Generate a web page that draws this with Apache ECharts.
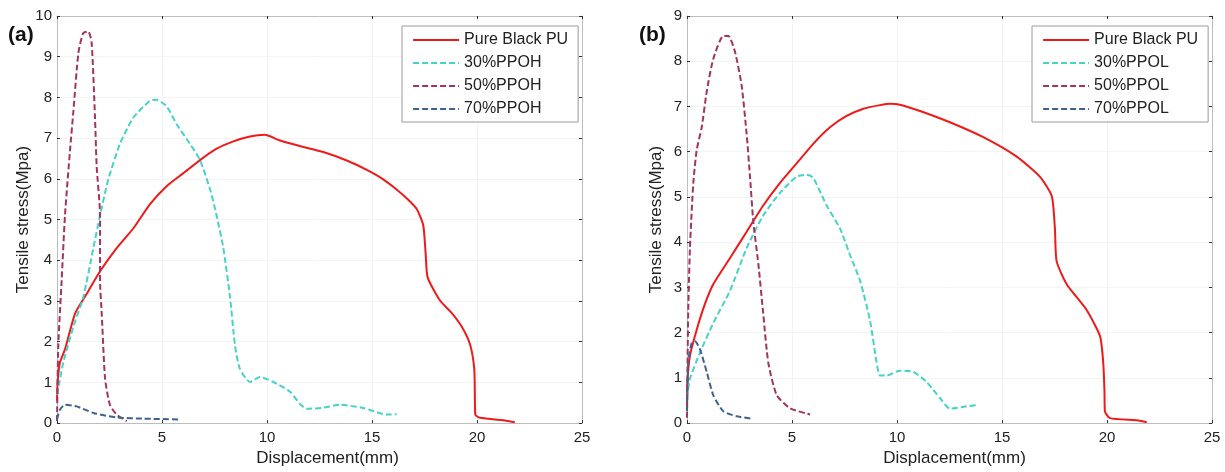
<!DOCTYPE html>
<html>
<head>
<meta charset="utf-8">
<script src="https://cdn.jsdelivr.net/npm/echarts@6/dist/echarts.min.js"></script>
<style>
html,body{margin:0;padding:0;background:#fff;}
#main{width:1225px;height:472px;}
</style>
</head>
<body>
<div id="main"></div>
<script>
// ---- Data (Displacement mm, Tensile stress MPa) ----
const xTicks = [0, 5, 10, 15, 20, 25];
const seriesNamesA = ['Pure Black PU', '30%PPOH', '50%PPOH', '70%PPOH'];
const seriesNamesB = ['Pure Black PU', '30%PPOL', '50%PPOL', '70%PPOL'];

// Panel (a)
const pureA = [[0,0.55],[0.03,1.01],[0.14,1.49],[0.38,1.81],[0.86,2.69],[1.41,3.17],[2.05,3.73],[2.84,4.3],[3.63,4.78],[4.43,5.38],[5.22,5.82],[6.02,6.14],[6.81,6.46],[7.6,6.74],[8.4,6.92],[9.19,7.04],[9.9,7.08],[10.62,6.94],[11.6,6.8],[12.68,6.66],[13.8,6.45],[14.75,6.22],[15.5,6.0],[16.17,5.74],[16.7,5.5],[17.13,5.26],[17.44,4.86],[17.55,4.2],[17.65,3.58],[18.24,3.01],[18.8,2.7],[19.27,2.37],[19.67,1.93],[19.87,1.33],[19.9,0.6],[19.92,0.21],[20.14,0.13],[21.4,0.06],[21.8,0.02]];
const ppoh30 = [[0,0.69],[0.3,1.49],[0.78,2.37],[1.25,3.09],[1.73,4.3],[2.05,5.1],[2.44,5.98],[3.0,6.86],[3.63,7.5],[4.43,7.92],[4.75,7.94],[5.22,7.78],[5.7,7.34],[6.33,6.86],[6.81,6.46],[7.29,5.74],[7.6,5.1],[7.92,4.3],[8.24,3.09],[8.48,1.89],[8.71,1.33],[9.19,1.01],[9.67,1.13],[10.3,1.01],[11.1,0.77],[11.57,0.47],[11.9,0.35],[12.7,0.38],[13.48,0.45],[14.6,0.37],[15.7,0.21],[16.17,0.22]];
const ppoh50 = [[0,0.05],[0.06,1.89],[0.22,3.49],[0.38,5.1],[0.62,6.7],[0.78,7.66],[1.02,9.1],[1.25,9.58],[1.49,9.62],[1.65,9.34],[1.81,7.5],[1.89,6.3],[2.05,5.1],[2.05,3.49],[2.13,2.69],[2.29,1.09],[2.52,0.45],[2.84,0.21],[3.32,0.05]];
const ppoh70 = [[0,0.09],[0.14,0.33],[0.38,0.45],[0.94,0.41],[1.73,0.25],[2.84,0.14],[4.11,0.11],[5.78,0.09]];

// Panel (b)
const pureB = [[0,0.4],[0.02,0.91],[0.14,1.49],[0.46,2.06],[0.86,2.64],[1.25,3.07],[2.05,3.65],[2.84,4.23],[3.63,4.81],[4.43,5.31],[5.22,5.74],[6.02,6.18],[6.81,6.54],[7.6,6.79],[8.4,6.95],[9.19,7.03],[9.67,7.06],[10.14,7.04],[11.1,6.9],[12.52,6.65],[14.11,6.32],[15.7,5.89],[16.8,5.45],[17.37,5.02],[17.52,4.3],[17.6,3.58],[18.08,3.07],[19.03,2.5],[19.67,1.92],[19.82,1.34],[19.88,0.7],[19.9,0.26],[20.14,0.11],[21.49,0.06],[21.89,0.02]];
const ppol30 = [[0,0.55],[0.14,0.98],[0.62,1.56],[1.25,2.21],[2.05,2.93],[2.84,3.87],[3.63,4.59],[4.43,5.09],[5.22,5.45],[5.7,5.49],[6.01,5.42],[6.65,4.81],[7.29,4.3],[7.76,3.72],[8.24,3.15],[8.71,2.28],[9.03,1.34],[9.19,1.05],[9.51,1.05],[10.14,1.16],[10.78,1.13],[11.41,0.91],[12.05,0.55],[12.52,0.32],[13.32,0.37],[13.8,0.4]];
const ppol50 = [[0,0.12],[0.03,1.5],[0.06,2.5],[0.14,3.87],[0.3,5.31],[0.46,6.03],[0.7,6.54],[0.94,7.33],[1.25,8.05],[1.73,8.56],[1.97,8.56],[2.29,8.2],[2.6,7.47],[2.84,6.39],[3.0,5.45],[3.16,4.44],[3.4,3.51],[3.63,2.42],[3.87,1.34],[4.27,0.62],[4.9,0.33],[5.86,0.19]];
const ppol70 = [[0,0.26],[0.06,1.34],[0.22,1.77],[0.38,1.81],[0.62,1.63],[0.94,1.13],[1.25,0.62],[1.73,0.26],[2.37,0.15],[3.08,0.1]];

const colors = ['#ee1a1a', '#46d2c9', '#a3335f', '#3d6290'];
const FONT = 'Liberation Sans, Arial, Helvetica, sans-serif';

const chart = echarts.init(document.getElementById('main'), null, {renderer: 'canvas'});

function bottomX(gi, nameShift) {
  return {
    type: 'value', gridIndex: gi, position: 'bottom', min: 0, max: 25, interval: 5,
    name: 'Displacement(mm)', nameLocation: 'middle', nameGap: 21,
    nameTextStyle: {fontFamily: FONT, fontSize: 17, color: '#222', padding: [0, 0, 0, nameShift]},
    axisLine: {show: true, onZero: false, lineStyle: {color: '#bdbdbd', width: 1}},
    axisTick: {show: true, inside: true, length: 3, lineStyle: {color: '#333'}},
    axisLabel: {fontFamily: FONT, fontSize: 15, color: '#222', margin: 7},
    splitLine: {show: true, lineStyle: {color: '#f4f4f4'}}
  };
}
function topX(gi) {
  return {
    type: 'value', gridIndex: gi, position: 'top', min: 0, max: 25, interval: 5,
    axisLine: {show: true, onZero: false, lineStyle: {color: '#bdbdbd', width: 1}},
    axisTick: {show: true, inside: true, length: 3, lineStyle: {color: '#333'}},
    axisLabel: {show: false}, splitLine: {show: false}
  };
}
function leftY(gi, max, gap) {
  return {
    type: 'value', gridIndex: gi, position: 'left', min: 0, max: max, interval: 1,
    name: 'Tensile stress(Mpa)', nameLocation: 'middle', nameGap: gap, nameRotate: 90,
    nameTextStyle: {fontFamily: FONT, fontSize: 17, color: '#222'},
    axisLine: {show: true, onZero: false, lineStyle: {color: '#bdbdbd', width: 1}},
    axisTick: {show: true, inside: true, length: 3, lineStyle: {color: '#333'}},
    axisLabel: {fontFamily: FONT, fontSize: 15, color: '#222', margin: 5},
    splitLine: {show: true, lineStyle: {color: '#f4f4f4'}}
  };
}
function rightY(gi, max) {
  return {
    type: 'value', gridIndex: gi, position: 'right', min: 0, max: max, interval: 1,
    axisLine: {show: true, onZero: false, lineStyle: {color: '#bdbdbd', width: 1}},
    axisTick: {show: true, inside: true, length: 3, lineStyle: {color: '#333'}},
    axisLabel: {show: false}, splitLine: {show: false}
  };
}
function line(name, data, gi, idx) {
  return {
    name: name, type: 'line', xAxisIndex: gi * 2, yAxisIndex: gi * 2,
    data: data, symbol: 'none', smooth: 0.2, animation: false,
    lineStyle: {color: colors[idx], width: 2, type: idx === 0 ? 'solid' : [6, 3]},
    itemStyle: {color: colors[idx]}
  };
}
function legend(left, names) {
  return {
    orient: 'vertical', left: left, top: 26, data: names,
    padding: [6, 10, 5, 10], itemWidth: 46, itemHeight: 14, itemGap: 7,
    borderColor: '#9a9a9a', borderWidth: 1, backgroundColor: '#fff',
    itemStyle: {opacity: 0, borderWidth: 0},
    lineStyle: {width: 2.2},
    textStyle: {fontFamily: FONT, fontSize: 16, color: '#222', lineHeight: 16},
    selectedMode: false
  };
}

const option = {
  backgroundColor: '#fff',
  animation: false,
  grid: [
    {left: 57, top: 16, width: 525, height: 416},
    {left: 687, top: 16, width: 525, height: 416}
  ],
  xAxis: [bottomX(0, 16), topX(0), bottomX(1, 10), topX(1)],
  yAxis: [leftY(0, 10, 20), rightY(0, 10), leftY(1, 9, 22), rightY(1, 9)],
  legend: [legend(402, seriesNamesA), legend(1032, seriesNamesB)],
  graphic: [
    {type: 'text', left: 8, top: 25, style: {text: '(a)', font: 'bold 21px ' + FONT, fill: '#111'}},
    {type: 'text', left: 639, top: 25, style: {text: '(b)', font: 'bold 21px ' + FONT, fill: '#111'}}
  ],
  series: [
    line(seriesNamesA[0], pureA, 0, 0),
    line(seriesNamesA[1], ppoh30, 0, 1),
    line(seriesNamesA[2], ppoh50, 0, 2),
    line(seriesNamesA[3], ppoh70, 0, 3),
    line(seriesNamesB[0], pureB, 1, 0),
    line(seriesNamesB[1], ppol30, 1, 1),
    line(seriesNamesB[2], ppol50, 1, 2),
    line(seriesNamesB[3], ppol70, 1, 3)
  ]
};
chart.setOption(option);
</script>
</body>
</html>
